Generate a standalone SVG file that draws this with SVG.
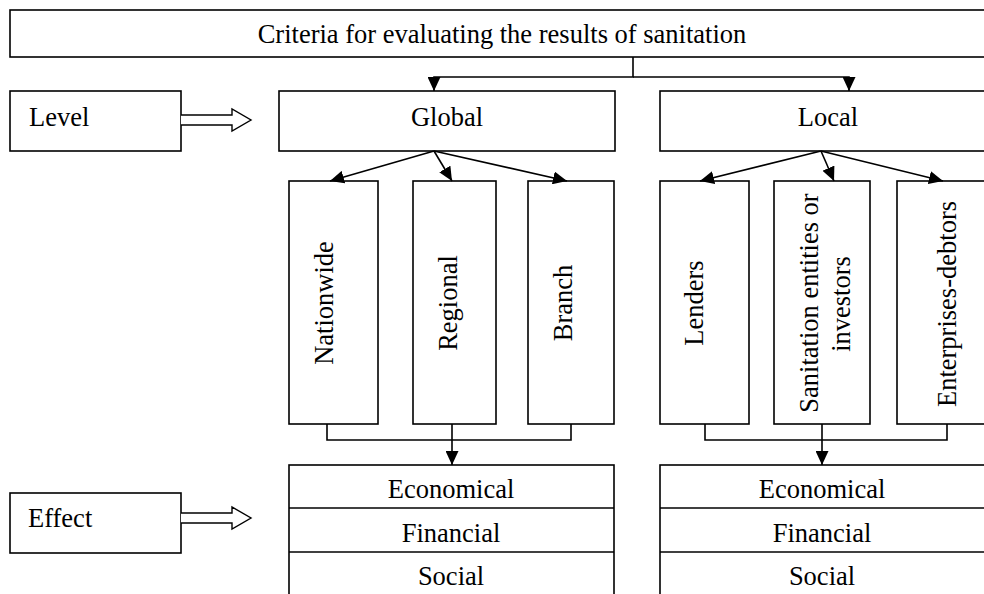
<svg xmlns="http://www.w3.org/2000/svg" width="984" height="594" viewBox="0 0 984 594">
<style>
.box{fill:#fff;stroke:#000;stroke-width:1.6}
.t{font-family:"Liberation Serif","Times New Roman",serif;font-size:26.5px;fill:#000}
.c{text-anchor:middle}
.con{fill:none;stroke:#000;stroke-width:1.6}
.dbl{fill:#fff;stroke:#000;stroke-width:1.4}
</style>
<defs>
<marker id="ah" markerUnits="userSpaceOnUse" markerWidth="15" markerHeight="13" refX="14" refY="6.5" orient="auto" viewBox="0 0 15 13">
<path d="M0,0 L14,6.5 L0,13 z" fill="#000"/>
</marker>
</defs>
<rect width="984" height="594" fill="#fff"/>
<g id="top"><rect class="box" x="10" y="10" width="986" height="47"/><text class="t c" x="502" y="43">Criteria for evaluating the results of sanitation</text></g>
<g id="level"><rect class="box" x="10" y="91" width="171" height="60"/><text class="t" x="29" y="126">Level</text></g>
<g id="level-arrow"><path class="dbl" d="M181,115 H232 V109 L251,120 L232,131 V125 H181"/></g>
<g id="global"><rect class="box" x="279" y="91" width="336" height="60"/><text class="t c" x="447" y="126">Global</text></g>
<g id="local"><rect class="box" x="660" y="91" width="336" height="60"/><text class="t c" x="828" y="126">Local</text></g>
<g id="nationwide"><rect class="box" x="289" y="181" width="89" height="243"/><text class="t c" transform="translate(333,303) rotate(-90)">Nationwide</text></g>
<g id="regional"><rect class="box" x="413" y="181" width="83" height="243"/><text class="t c" transform="translate(457,303) rotate(-90)">Regional</text></g>
<g id="branch"><rect class="box" x="528" y="181" width="86" height="243"/><text class="t c" transform="translate(572,303) rotate(-90)">Branch</text></g>
<g id="lenders"><rect class="box" x="660" y="181" width="89" height="243"/><text class="t c" transform="translate(703,303) rotate(-90)">Lenders</text></g>
<g id="sanitation"><rect class="box" x="774" y="181" width="96" height="243"/><text class="t c" transform="translate(818,303) rotate(-90)">Sanitation entities or</text><text class="t c" transform="translate(850,304) rotate(-90)">investors</text></g>
<g id="enterprises"><rect class="box" x="897" y="181" width="99" height="243"/><text class="t c" transform="translate(956,304) rotate(-90)">Enterprises-debtors</text></g>
<g id="effect"><rect class="box" x="10" y="493" width="171" height="60"/><text class="t" x="28" y="527">Effect</text></g>
<g id="effect-arrow"><path class="dbl" d="M181,513 H232 V507 L251,518 L232,529 V523 H181"/></g>
<g id="effects-global"><rect class="box" x="289" y="465" width="325" height="140"/><line class="con" x1="289" y1="508" x2="614" y2="508"/><line class="con" x1="289" y1="552" x2="614" y2="552"/><text class="t c" x="451" y="498">Economical</text><text class="t c" x="451" y="542">Financial</text><text class="t c" x="451" y="585">Social</text></g>
<g id="effects-local"><rect class="box" x="660" y="465" width="336" height="140"/><line class="con" x1="660" y1="508" x2="996" y2="508"/><line class="con" x1="660" y1="552" x2="996" y2="552"/><text class="t c" x="822" y="498">Economical</text><text class="t c" x="822" y="542">Financial</text><text class="t c" x="822" y="585">Social</text></g>
<g id="connectors">
<path class="con" d="M633,57 V77 H434 V91" marker-end="url(#ah)"/>
<path class="con" d="M633,77 H849 V91" marker-end="url(#ah)"/>
<line class="con" x1="434" y1="151" x2="330" y2="181" marker-end="url(#ah)"/>
<line class="con" x1="434" y1="151" x2="452" y2="181" marker-end="url(#ah)"/>
<line class="con" x1="434" y1="151" x2="567" y2="181" marker-end="url(#ah)"/>
<line class="con" x1="821" y1="151" x2="700" y2="181" marker-end="url(#ah)"/>
<line class="con" x1="821" y1="151" x2="834" y2="181" marker-end="url(#ah)"/>
<line class="con" x1="821" y1="151" x2="943" y2="181" marker-end="url(#ah)"/>
<path class="con" d="M327,424 V440 H571 V424"/>
<path class="con" d="M452,424 V465" marker-end="url(#ah)"/>
<path class="con" d="M705,424 V440 H947 V424"/>
<path class="con" d="M822,424 V465" marker-end="url(#ah)"/>
</g>
</svg>
